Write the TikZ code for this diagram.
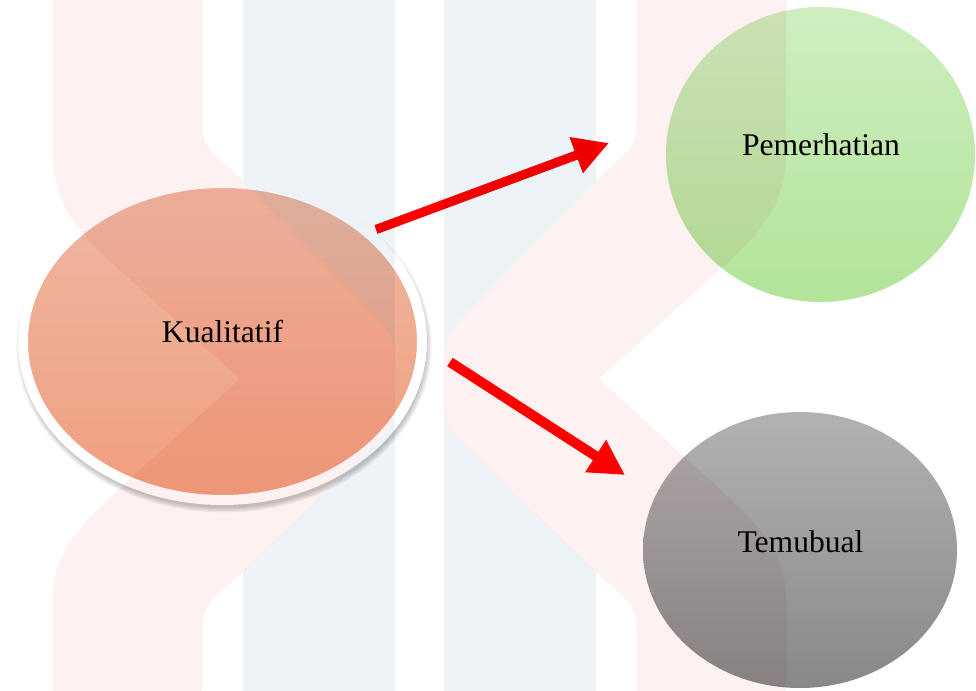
\documentclass[tikz,border=0pt]{standalone}
\usepackage{fontspec}
\setmainfont{Liberation Serif}
\usetikzlibrary{arrows.meta,shapes.geometric}
\definecolor{wmpink}{RGB}{253,241,241}
\definecolor{wmblue}{RGB}{238,243,247}
\definecolor{salmontop}{RGB}{238,184,162}
\definecolor{salmonbot}{RGB}{240,158,126}
\definecolor{greentop}{RGB}{206,238,192}
\definecolor{greenbot}{RGB}{178,228,153}
\definecolor{graytop}{RGB}{178,178,178}
\definecolor{graybot}{RGB}{136,136,136}
\definecolor{arrowred}{RGB}{255,0,0}
\def\bandL{(53,-5) -- (53,150) .. controls (53,195) and (68,220) .. (100,252) -- (240,379) -- (140,470) .. controls (80,525) and (53,550) .. (53,600) -- (53,695) -- (202,695) -- (202,630) .. controls (202,605) and (215,595) .. (240,575) -- (380,440) .. controls (392,428) and (395,415) .. (395,395) -- (395,365) .. controls (395,345) and (392,333) .. (380,320) -- (240,178) .. controls (215,155) and (202,148) .. (202,125) -- (202,-5) -- cycle}
\def\bandR{(786,-5) -- (786,150) .. controls (786,195) and (771,220) .. (739,252) -- (599,379) -- (699,470) .. controls (759,525) and (786,550) .. (786,600) -- (786,695) -- (637,695) -- (637,630) .. controls (637,605) and (624,595) .. (599,575) -- (459,440) .. controls (447,428) and (444,415) .. (444,395) -- (444,365) .. controls (444,345) and (447,333) .. (459,320) -- (599,178) .. controls (624,155) and (637,148) .. (637,125) -- (637,-5) -- cycle}
\begin{document}
\begin{tikzpicture}[x=0.75pt,y=-0.75pt,
  blob/.style={ellipse, inner sep=0pt, outer sep=0pt},
  lbl/.style={anchor=base, inner sep=0pt, font=\fontsize{23.7}{28}\selectfont, text=black},
  redarrow/.style={draw=arrowred, line cap=butt, -{Triangle[length=26.25pt,width=27pt]}}]
\useasboundingbox (0,0) rectangle (976,690);
\clip (0,0) rectangle (976,690);
\fill[white] (0,0) rectangle (976,690);
% shadow of the central ellipse
\foreach \k in {0,1.5,3,4.5}{
  \fill[black, opacity=0.06] (224,346) ellipse [x radius=203+\k, y radius=162+\k];
}
% main shapes
\node[blob, minimum width=299.25pt, minimum height=237.75pt, draw=white, line width=7.5pt,
      top color=salmontop, bottom color=salmonbot] (kual) at (222.5,341.5) {};
\node[blob, minimum width=231.75pt, minimum height=221.25pt,
      top color=greentop, bottom color=greenbot] (pem) at (820.5,154.5) {};
\node[blob, minimum width=235.5pt, minimum height=207pt,
      top color=graytop, bottom color=graybot] (temu) at (800,550) {};
% labels
\node[lbl] (tk) at (222.5,342) {Kualitatif};
\node[lbl] (tp) at (821,155) {Pemerhatian};
\node[lbl] (tt) at (800.5,552) {Temubual};
% connectors
\coordinate (a1s) at (376,229.5);
\coordinate (a1e) at (609,143);
\coordinate (a2s) at (450,362);
\coordinate (a2e) at (625,475);
\draw[redarrow, line width=6.9pt] (a1s) -- (a1e);
\draw[redarrow, line width=7.5pt] (a2s) -- (a2e);
% watermark (multiplied over everything)
\begin{scope}[blend mode=multiply]
  \fill[wmpink] \bandL;
  \fill[wmpink] \bandR;
  \begin{scope}[even odd rule]
    \clip (-10,-10) rectangle (990,700) \bandL \bandR;
    \fill[wmblue] (243,-5) rectangle (395,695);
    \fill[wmblue] (444,-5) rectangle (596,695);
  \end{scope}
\end{scope}
\end{tikzpicture}
\end{document}
